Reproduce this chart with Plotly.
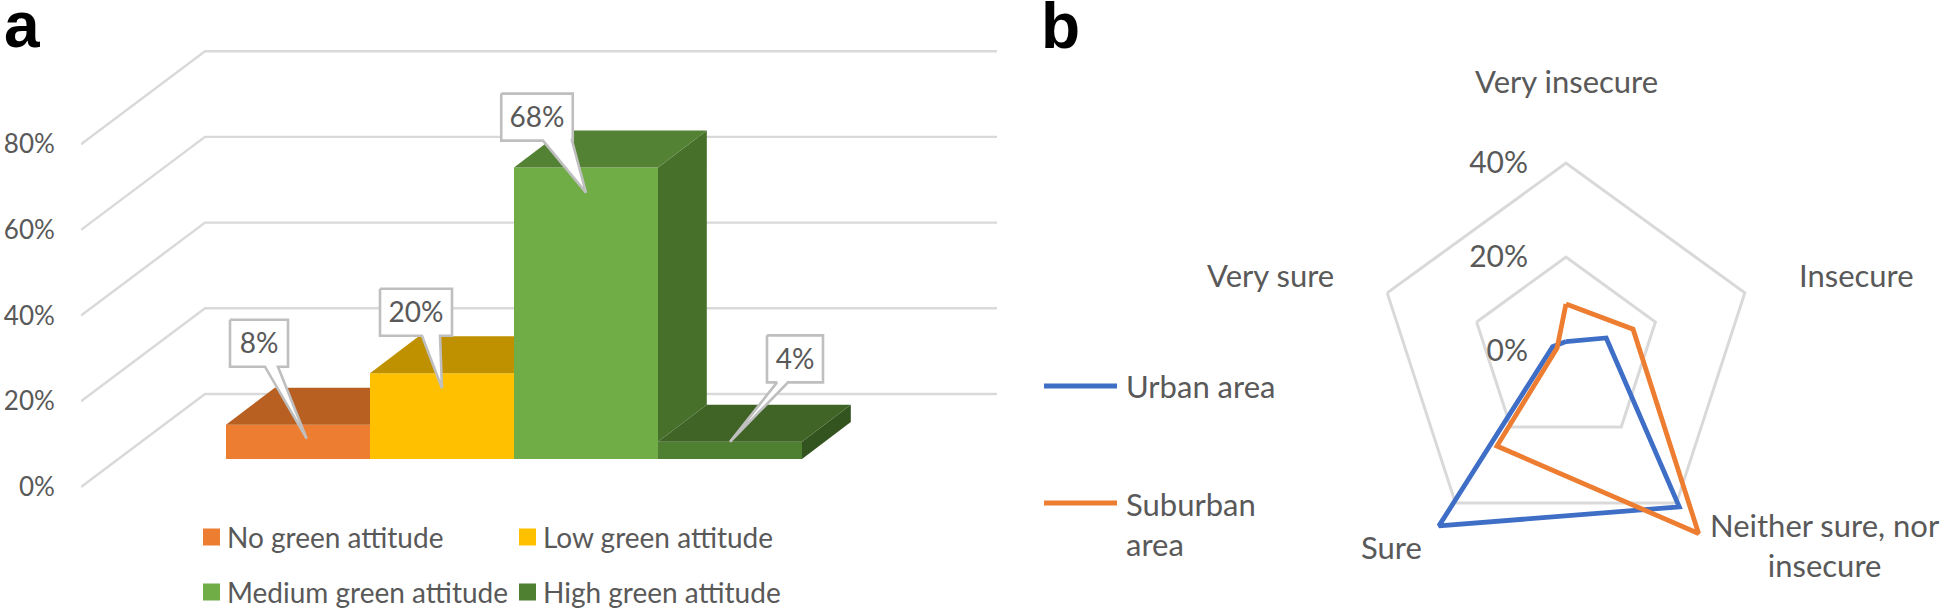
import plotly.graph_objects as go

# ---------- data ----------
attitude_names = ["No green attitude", "Low green attitude", "Medium green attitude", "High green attitude"]
attitude_values = [8, 20, 68, 4]
level_ticks = [0, 20, 40, 60, 80]

confidence_names = ["Very insecure", "Insecure", "Neither sure, nor<br>insecure", "Sure", "Very sure"]
urban_values = [2, 9, 41, 46, 3]
suburban_values = [10, 15, 48, 25, 2]
radar_ticks = [0, 20, 40]

# ---------- styles ----------
W, H = 1946, 610
FONT = "Lato"
TEXT = "#595959"
FS = 26
FS_LEG = 28
FS_B = 31
GRID = "#d9d9d9"
front = ["#ED7D31", "#FFC000", "#70AD47", "#4F7F30"]
top = ["#B85F22", "#BF9000", "#548235", "#3F6426"]
side = ["#B85F22", "#BF9000", "#47702B", "#33531F"]

# chart-a pixel geometry
UNIT_X, UNIT_Y = 144.0, 4.285      # px per category / per percent
X0_PX, Y0_PX = 298.0, 487.0        # px of category 0 centre and of 0 %
DOM_L, DOM_R, DOM_T, DOM_B = 81, 1000, 30, 505

def dx(px):  # pixel distance -> x units
    return px / UNIT_X
def dy(px):  # pixel distance -> y units
    return px / UNIT_Y

BASE = dy(28)                       # bars float on the floor
DEPTH_X, DEPTH_Y = dx(48.8), dy(37)
FLOOR_X, FLOOR_Y = dx(124), dy(93)
GRID_X0 = dx(81 - X0_PX)
GRID_X1 = dx(997 - X0_PX)

fig = go.Figure()

# gridlines of the pseudo 3-D wall
shapes = []
for lv in level_ticks:
    path = (f"M{GRID_X0},{lv} L{GRID_X0 + FLOOR_X},{lv + FLOOR_Y} L{GRID_X1},{lv + FLOOR_Y}")
    shapes.append(dict(type="path", path=path, xref="x", yref="y", layer="below",
                       line=dict(color=GRID, width=2.4)))

# front faces
xs = list(range(len(attitude_values)))
fig.add_trace(go.Bar(x=xs, y=attitude_values, base=BASE, width=1.0, marker=dict(color=front, line=dict(width=0)),
                     showlegend=False, hoverinfo="skip"))

def poly(xv, yv, color, line=None, width=0):
    fig.add_trace(go.Scatter(x=xv + xv[:1], y=yv + yv[:1], mode="lines", fill="toself", fillcolor=color,
                             line=dict(color=line or color, width=width), showlegend=False, hoverinfo="skip"))

# sides and tops
for i, v in enumerate(attitude_values):
    nxt = attitude_values[i + 1] if i + 1 < len(attitude_values) else 0
    l, r = i - 0.5, i + 0.5
    t = BASE + v
    if nxt < v:
        nt = BASE + nxt
        poly([r, r + DEPTH_X, r + DEPTH_X, r], [t, t + DEPTH_Y, nt + DEPTH_Y, nt], side[i])
        tx = [l, r, r + DEPTH_X, l + DEPTH_X]
        ty = [t, t, t + DEPTH_Y, t + DEPTH_Y]
    else:
        tx = [l, r, r, l + DEPTH_X]
        ty = [t, t, t + DEPTH_Y, t + DEPTH_Y]
    poly(tx, ty, top[i])

# callouts: offsets in pixels from the centre of each bar's top edge
box_dx = [-39, -26, -49, 65]
box_dy = [-81.5, -61, -50.5, -83]
box_w = [58, 72, 71.5, 56]
BOX_H = 47
tail_l = [-33, -20, -43, 47]
tail_r = [-20, -2, -14, 58]
tip_dx = [8.7, 0, 0, 0]
tip_dy = [14, 15, 25, 0]
LABEL_DROP = 3
lab_x, lab_y = [], []
for i, v in enumerate(attitude_values):
    cx, cy = float(i), BASE + v
    def P(ox, oy):
        return cx + dx(ox), cy - dy(oy)
    bl = box_dx[i] - box_w[i] / 2
    br = box_dx[i] + box_w[i] / 2
    bt = box_dy[i] - BOX_H / 2
    bb = box_dy[i] + BOX_H / 2
    pts = [P(bl, bt), P(br, bt), P(br, bb), P(tail_r[i], bb), P(tip_dx[i], tip_dy[i]), P(tail_l[i], bb), P(bl, bb)]
    poly([p[0] for p in pts], [p[1] for p in pts], "#ffffff", line="#bfbfbf", width=2.6)
    lx, ly = P(box_dx[i], box_dy[i] + LABEL_DROP)
    lab_x.append(lx)
    lab_y.append(ly)
fig.add_trace(go.Scatter(x=lab_x, y=lab_y, mode="text", text=[f"{v}%" for v in attitude_values],
                         textposition="middle center", textfont=dict(family=FONT, size=28, color=TEXT),
                         showlegend=False, hoverinfo="skip"))

# radar
ctheta = confidence_names + confidence_names[:1]
fig.add_trace(go.Scatterpolar(r=urban_values + urban_values[:1], theta=ctheta, mode="lines", cliponaxis=False,
                              line=dict(color="#3F6EC6", width=4.8), showlegend=False, hoverinfo="skip"))
fig.add_trace(go.Scatterpolar(r=suburban_values + suburban_values[:1], theta=ctheta, mode="lines", cliponaxis=False,
                              line=dict(color="#ED7D31", width=4.8), showlegend=False, hoverinfo="skip"))

# helpers for paper-space text
ann = []
def text(px, py, s, anchor="left", size=FS, color=TEXT, family=FONT, align="center"):
    ann.append(dict(x=px / W, y=1 - py / H, xref="paper", yref="paper", text=s, showarrow=False,
                    xanchor=anchor, yanchor="middle", font=dict(family=family, size=size, color=color),
                    align=align, borderpad=0))

text(3, 25, "<b>a</b>", size=64, color="#000000", family="Liberation Sans")
text(1040, 26, "<b>b</b>", size=64, color="#000000", family="Liberation Sans")

# legend a
leg_pos = [(203, 537), (519, 537), (203, 592), (519, 592)]
for (lx, ly), name, col in zip(leg_pos, attitude_names, front):
    shapes.append(dict(type="rect", xref="paper", yref="paper", x0=lx / W, x1=(lx + 17) / W,
                       y0=1 - (ly + 8.5) / H, y1=1 - (ly - 8.5) / H, fillcolor=col, line=dict(width=0)))
    text(lx + 23, ly, name, size=FS_LEG)

# legend b
for ly, col, s, ty in [(386, "#3F6EC6", "Urban area", 386), (503, "#ED7D31", "Suburban<br>area", 524)]:
    shapes.append(dict(type="line", xref="paper", yref="paper", x0=1044 / W, x1=1117 / W,
                       y0=1 - ly / H, y1=1 - ly / H, line=dict(color=col, width=4.8)))
    text(1125, ty, s, size=FS_B, align="left")

# radar category labels
cat_pos = [(1566, 81, "center"), (1856, 275, "center"), (1825, 545, "center"), (1391, 547, "center"), (1270, 275, "center")]
for (px, py, a), name in zip(cat_pos, confidence_names):
    text(px, py, name, anchor=a, size=FS_B)

# the radar axis runs to 50 % so that the values past the 40 % ring stay visible
CX, CY, PX_PER_PCT, RAD_MAX = 1566, 351, 4.7, 50
R = PX_PER_PCT * RAD_MAX
fig.update_layout(
    width=W, height=H, margin=dict(l=0, r=0, t=0, b=0), paper_bgcolor="white", plot_bgcolor="white",
    showlegend=False, shapes=shapes, annotations=ann,
    xaxis=dict(domain=[DOM_L / W, DOM_R / W], range=[dx(DOM_L - X0_PX), dx(DOM_R - X0_PX)], visible=False),
    yaxis=dict(domain=[1 - DOM_B / H, 1 - DOM_T / H], range=[dy(Y0_PX - DOM_B), dy(Y0_PX - DOM_T)],
               tickvals=level_ticks, ticktext=[f"{t}%" for t in level_ticks], showgrid=False, zeroline=False,
               showline=False, ticks="outside", ticklen=20, tickcolor="rgba(0,0,0,0)",
               tickfont=dict(family=FONT, size=FS, color=TEXT)),
    polar=dict(
        domain=dict(x=[(CX - R) / W, (CX + R) / W], y=[1 - (CY + R) / H, 1 - (CY - R) / H]),
        bgcolor="rgba(0,0,0,0)", gridshape="linear",
        radialaxis=dict(range=[0, RAD_MAX], tickvals=radar_ticks, ticktext=[f"{t}%" for t in radar_ticks], angle=90,
                        side="counterclockwise", tickangle=90, showline=False, gridcolor=GRID, gridwidth=3,
                        ticks="outside", ticklen=27, tickcolor="rgba(0,0,0,0)",
                        tickfont=dict(family=FONT, size=30, color=TEXT)),
        angularaxis=dict(direction="clockwise", rotation=90, type="category", showticklabels=False, showline=False,
                         showgrid=False, ticks=""),
    ),
)
fig.write_html("out.html", config=dict(displayModeBar=False),
               post_script="document.body.style.margin='0';document.documentElement.style.overflow='hidden';")
